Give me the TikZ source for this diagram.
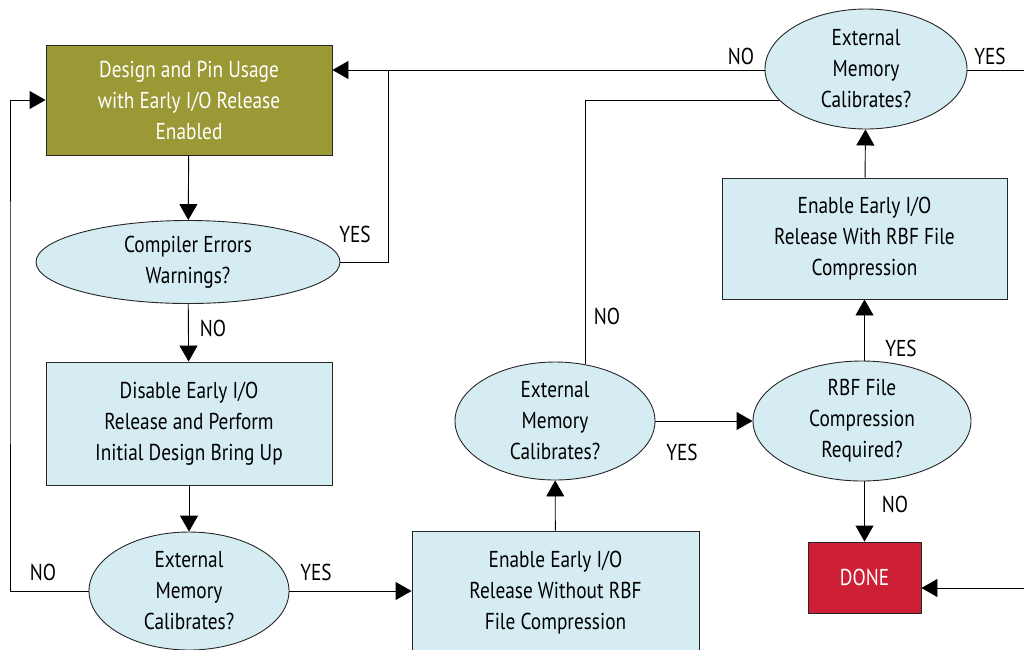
\documentclass[tikz,border=0pt]{standalone}
\usepackage{fontspec}
\setmainfont[FakeStretch=0.84]{PT Sans}
\usepackage{xcolor}
\usetikzlibrary{
    arrows.meta,
    shapes.geometric
}
\definecolor{flowblue}{RGB}{213,236,243}
\definecolor{flowolive}{RGB}{154,153,53}
\definecolor{flowred}{RGB}{205,32,54}

\begin{document}
\begin{tikzpicture}[
        x=1pt, y=-1pt,
        font=\fontsize{23}{31}\selectfont,
        stepbox/.style={draw=black!85, line width=0.9pt, fill=flowblue, align=center, inner sep=0},
        decision/.style={ellipse, draw=black!85, line width=0.9pt, fill=flowblue, align=center, inner sep=0},
        answer/.style={inner sep=0},
        flow/.style={line width=0.9pt, -{Triangle[length=16pt, width=18pt]}},
        plain/.style={line width=0.9pt}
    ]
    \useasboundingbox (0, 0) rectangle (1024, 649);
    \clip (0, 0) rectangle (1024, 649);

    \node[stepbox, fill=flowolive, text=white, minimum width=286, minimum height=110] (design) at (189, 100) {Design and Pin Usage\\with Early I/O Release\\Enabled};
    \node[decision, minimum width=304, minimum height=83] (compile) at (188, 262) {Compiler Errors\\Warnings?};
    \node[stepbox, minimum width=286, minimum height=123] (disable) at (189, 423.5) {Disable Early I/O\\Release and Perform\\Initial Design Bring Up};
    \node[decision, minimum width=200, minimum height=118] (memfirst) at (189, 591) {External\\Memory\\Calibrates?};
    \node[stepbox, minimum width=287, minimum height=123] (without) at (555.5, 592.5) {Enable Early I/O\\Release Without RBF\\File Compression};
    \node[decision, minimum width=200, minimum height=118] (memsecond) at (555, 421) {External\\Memory\\Calibrates?};
    \node[decision, minimum width=218, minimum height=120] (rbf) at (862, 421) {RBF File\\Compression\\Required?};
    \node[stepbox, minimum width=285, minimum height=121] (with) at (864.5, 238.5) {Enable Early I/O\\Release With RBF File\\Compression};
    \node[decision, minimum width=202, minimum height=120] (memthird) at (866, 69) {External\\Memory\\Calibrates?};
    \node[stepbox, fill=flowred, text=white, minimum width=113, minimum height=71] (done) at (864.5, 577.5) {DONE};

    \coordinate (join) at (388, 70);
    \coordinate (loopleft) at (10, 300);
    \coordinate (exittop) at (1030, 70);
    \coordinate (enterdone) at (1030, 588);

    \node[answer] (yescompile) at (355, 234) {YES};
    \node[answer] (nocompile) at (213, 328) {NO};
    \node[answer] (nofirst) at (43, 572) {NO};
    \node[answer] (yesfirst) at (316, 572) {YES};
    \node[answer] (yessecond) at (682, 452) {YES};
    \node[answer] (nosecond) at (607, 316) {NO};
    \node[answer] (yesrbf) at (901, 348) {YES};
    \node[answer] (norbf) at (895, 504) {NO};
    \node[answer] (nothird) at (741, 56) {NO};
    \node[answer] (yesthird) at (990, 56) {YES};

    \draw[flow] (design) -- (compile);
    \draw[flow] (compile) -- (disable);
    \draw[flow] (disable) -- (memfirst);
    \draw[flow] (memfirst.east) -- (memfirst.east -| without.west);
    \draw[flow] (without) -- (memsecond);
    \draw[flow] (memsecond) -- (rbf);
    \draw[flow] (rbf.north -| with) -- (with);
    \draw[flow] (with) -- (memthird);
    \draw[flow] (rbf.south -| done) -- (done);
    \draw[flow] (compile.east) -| (join) -- (design.east |- join);
    \draw[flow] (memfirst.west) -| (loopleft) |- (design.west);
    \draw[flow] (enterdone) -- (done.east |- enterdone);
    \draw[plain] (memthird.west |- join) -- (join);
    \draw[plain] (memthird.east |- exittop) -- (exittop);
    \draw[plain] (memsecond.62) |- (memthird.200);
\end{tikzpicture}
\end{document}
